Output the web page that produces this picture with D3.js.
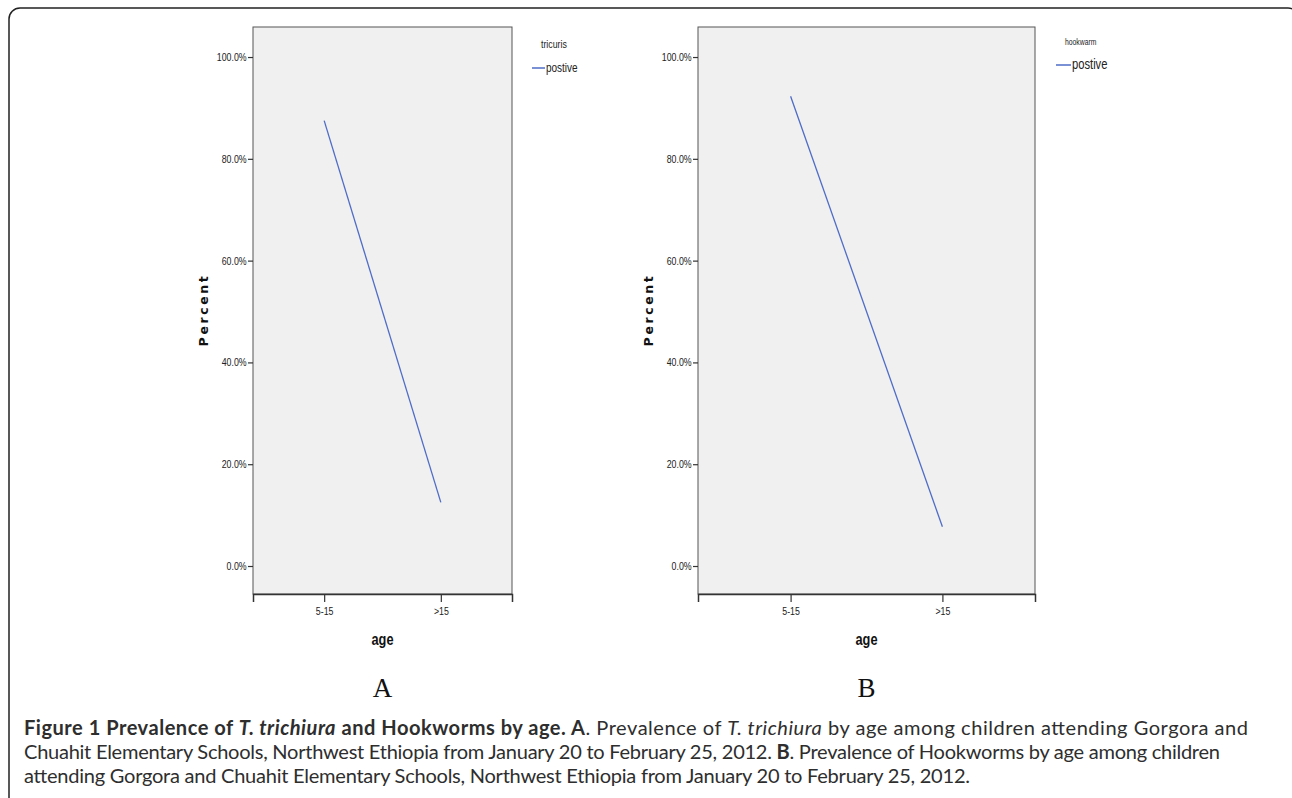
<!DOCTYPE html>
<html>
<head>
<meta charset="utf-8">
<script src="https://cdn.jsdelivr.net/npm/d3@7"></script>
<style>
  body { margin: 0; background: #fff; }
  svg { display: block; }
</style>
</head>
<body>
<svg id="fig" width="1292" height="798"></svg>
<script>
// data
const ageGroups = ["5-15", ">15"];
const tricurisPositive = [87.5, 12.5];
const hookwormPositive = [92.3, 7.7];
const yTicks = [0, 20, 40, 60, 80, 100];

const svg = d3.select("#fig");
const sans = "'Liberation Sans', Arial, sans-serif";
const squeeze = 0.8; // fake a narrow face like the SPSS output

// outer frame
svg.append("rect")
  .attr("x", 9).attr("y", 8)
  .attr("width", 1290).attr("height", 820)
  .attr("rx", 11)
  .attr("fill", "none")
  .attr("stroke", "#222")
  .attr("stroke-width", 1.5);

function narrowText(g, x, y, txt, size, anchor, bold) {
  return g.append("g")
    .attr("transform", `translate(${x},${y}) scale(${squeeze},1)`)
    .append("text")
    .attr("text-anchor", anchor || "start")
    .attr("font-family", sans)
    .attr("font-size", size)
    .attr("font-weight", bold ? "bold" : null)
    .attr("fill", "#222")
    .text(txt);
}

function drawPanel(opt) {
  const g = svg.append("g");
  const x = d3.scalePoint().domain(ageGroups).range([opt.left, opt.right]).padding(0.61);
  const y = d3.scaleLinear().domain([-5.5, 105.9]).range([594, 27]);

  g.append("rect")
    .attr("x", opt.left).attr("y", 27)
    .attr("width", opt.right - opt.left).attr("height", 594 - 27)
    .attr("fill", "#f0f0f0")
    .attr("stroke", "#555")
    .attr("stroke-width", 1);

  const yAxis = g.append("g")
    .attr("transform", `translate(${opt.left},0)`)
    .call(d3.axisLeft(y).tickValues(yTicks).tickSize(5).tickPadding(3)
      .tickFormat(d => d.toFixed(1) + "%"));
  yAxis.select(".domain").remove();

  const xAxis = g.append("g")
    .attr("transform", "translate(0,594)")
    .call(d3.axisBottom(x).tickSize(8).tickPadding(5));
  xAxis.select(".domain").attr("stroke", "#333").attr("stroke-width", 1.5);

  g.selectAll(".tick line").attr("stroke", "#333").attr("stroke-width", 1.2);
  g.selectAll(".tick text")
    .attr("font-family", sans)
    .attr("font-size", 11)
    .attr("fill", "#222")
    .attr("transform", `scale(${squeeze},1)`);

  const line = d3.line().x(d => x(d.age)).y(d => y(d.val));
  const pts = ageGroups.map((a, i) => ({ age: a, val: opt.values[i] }));
  g.append("path")
    .datum(pts)
    .attr("d", line)
    .attr("fill", "none")
    .attr("stroke", "#4f6cc7")
    .attr("stroke-width", 1.3);

  // axis titles
  g.append("text")
    .attr("transform", `translate(${opt.left - 45},310) rotate(-90)`)
    .attr("text-anchor", "middle")
    .attr("font-family", "'DejaVu Sans', sans-serif")
    .attr("font-weight", "bold")
    .attr("font-size", 12.5)
    .attr("letter-spacing", 2.6)
    .attr("fill", "#111")
    .text("Percent");

  const mid = (opt.left + opt.right) / 2;
  narrowText(g, mid, 645, "age", 16, "middle", true).attr("fill", "#111");

  g.append("text")
    .attr("x", mid).attr("y", 697)
    .attr("text-anchor", "middle")
    .attr("font-family", "'Liberation Serif', 'Times New Roman', serif")
    .attr("font-size", 27)
    .attr("fill", "#111")
    .text(opt.letter);

  // legend
  narrowText(g, opt.legendX + 9, opt.titleY, opt.legendTitle, opt.titleSize);
  g.append("line")
    .attr("x1", opt.legendX).attr("x2", opt.legendX + opt.swatch)
    .attr("y1", opt.itemY - 4).attr("y2", opt.itemY - 4)
    .attr("stroke", "#4f6cc7").attr("stroke-width", 1.5);
  narrowText(g, opt.legendX + opt.swatch + 1, opt.itemY, "postive", opt.itemSize);
}

drawPanel({
  left: 253, right: 512, values: tricurisPositive, letter: "A",
  legendTitle: "tricuris", legendX: 532, swatch: 13,
  titleY: 48, titleSize: 11, itemY: 72, itemSize: 12.5
});
drawPanel({
  left: 698, right: 1035, values: hookwormPositive, letter: "B",
  legendTitle: "hookwarm", legendX: 1056, swatch: 15,
  titleY: 45, titleSize: 8.5, itemY: 69, itemSize: 14
});

// caption
const capFont = "Lato, 'Open Sans', 'Noto Sans', sans-serif";
const capLines = [
  [["Figure 1 Prevalence of ", "b"], ["T. trichiura", "bi"], [" and Hookworms by age. A", "b"],
   [". Prevalence of ", ""], ["T. trichiura", "i"], [" by age among children attending Gorgora and", ""]],
  [["Chuahit Elementary Schools, Northwest Ethiopia from January 20 to February 25, 2012. ", ""],
   ["B", "b"], [". Prevalence of Hookworms by age among children", ""]],
  [["attending Gorgora and Chuahit Elementary Schools, Northwest Ethiopia from January 20 to February 25, 2012.", ""]]
];
const capEnds = [1248, 1220, 970];
const caption = svg.append("g");
const capTexts = caption.selectAll("text")
  .data(capLines)
  .join("text")
  .attr("x", 24)
  .attr("y", (d, i) => 735 + i * 24)
  .attr("font-family", capFont)
  .attr("font-size", 16)
  .attr("fill", "#2e2e2e");
capTexts.selectAll("tspan")
  .data(d => d)
  .join("tspan")
  .attr("font-weight", d => d[1].includes("b") ? "bold" : null)
  .attr("font-style", d => d[1].includes("i") ? "italic" : null)
  .text(d => d[0]);

// pick one size that suits all lines, then spread each to its width
const sizes = capTexts.nodes().map((n, i) => 16 * (capEnds[i] - 24) / n.getComputedTextLength());
capTexts.attr("font-size", d3.mean(sizes));
capTexts.each(function (d, i) {
  d3.select(this)
    .attr("textLength", capEnds[i] - 24)
    .attr("lengthAdjust", "spacing");
});
</script>
</body>
</html>
